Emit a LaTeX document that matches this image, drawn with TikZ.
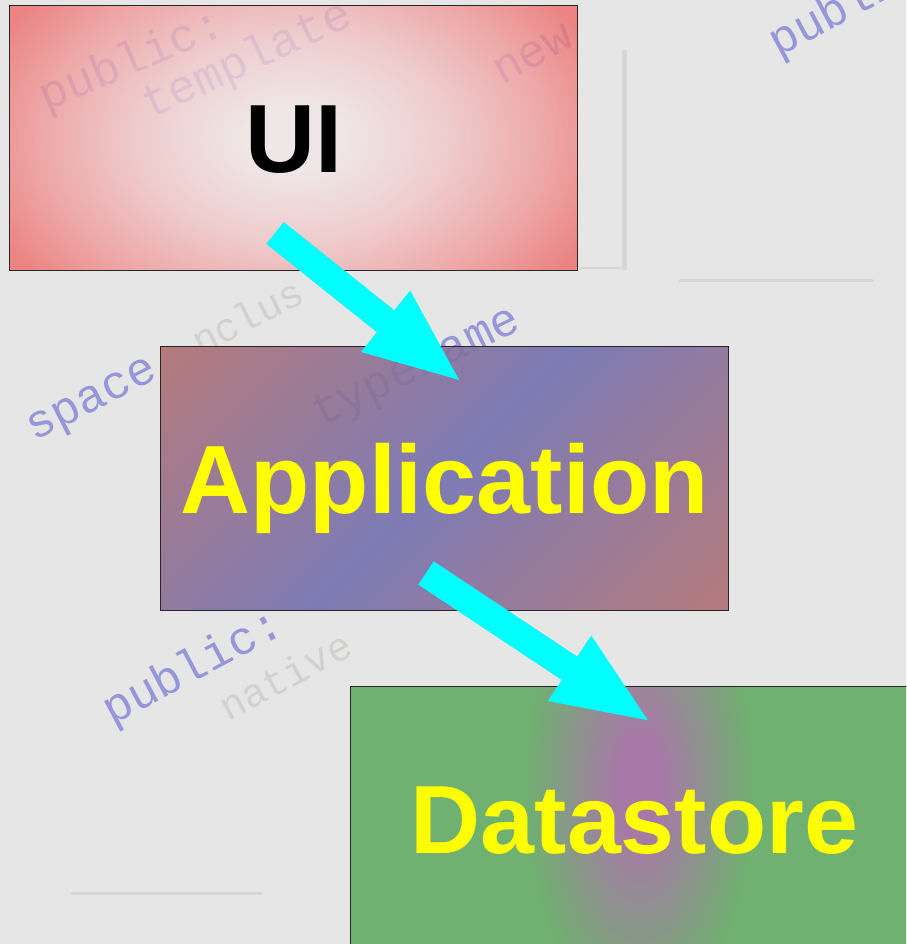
\documentclass[tikz,border=0pt]{standalone}
\usepackage{fontspec}
\setmainfont{Liberation Sans}
\newfontfamily\wmfont{Liberation Mono}
\usetikzlibrary{arrows.meta,calc}
\definecolor{bgcol}{HTML}{E6E6E6}
\definecolor{uiin}{HTML}{F2E8E8}
\definecolor{uimid}{HTML}{F2C4C6}
\definecolor{uimidb}{HTML}{F09A9A}
\definecolor{uiout}{HTML}{EE6C6C}
\definecolor{appred}{HTML}{B27070}
\definecolor{appblue}{HTML}{7270B0}
\definecolor{dsgreen}{HTML}{70B070}
\definecolor{dspurple}{HTML}{A878A8}
\definecolor{arrowcyan}{HTML}{00FFFF}
\definecolor{labelyellow}{HTML}{FFFF00}
\definecolor{wmblue}{HTML}{7C7CD8}
\definecolor{wmgray}{HTML}{B8B8B0}
\definecolor{ghostgray}{HTML}{D6D6D6}
\pgfdeclareradialshading{uishade}{\pgfpoint{0bp}{0bp}}{color(0bp)=(uiin); color(4bp)=(uiin); color(14bp)=(uimid); color(22bp)=(uimidb); color(29bp)=(uiout); color(50bp)=(uiout)}
\pgfdeclarehorizontalshading{appshade}{100bp}{color(0bp)=(appred); color(14bp)=(appred); color(50bp)=(appblue); color(86bp)=(appred); color(100bp)=(appred)}
\tikzset{
  wm/.style={font=\wmfont\fontsize{47}{47}\selectfont, text=wmblue, text opacity=0.75, anchor=base west, inner sep=0pt},
  wmg/.style={font=\wmfont\fontsize{40}{40}\selectfont, text=wmgray, text opacity=0.45, anchor=base west, inner sep=0pt},
  ghost/.style={draw=ghostgray, line width=3pt, line cap=round},
  box/.style={draw=black!85, line width=1pt, minimum width=568pt, minimum height=264pt, inner sep=0pt,
    text height=70pt, text depth=0pt, font=\fontsize{97}{97}\selectfont\bfseries},
  flow/.style={draw=arrowcyan, line width=28pt, -{Triangle[width=70pt,length=99pt]}}
}
\begin{document}
\begin{tikzpicture}[x=1pt,y=-1pt]
\useasboundingbox (0,0) rectangle (906,944);
\clip (0,0) rectangle (906,944);
\fill[bgcol] (0,0) rectangle (906,944);
% faint background art
\draw[ghost] (680,280) -- (872,280);
\draw[ghost] (72,893) -- (262,893);
\draw[ghost, line width=5pt] (624,52) -- (624,268);
\draw[ghost, line width=2pt] (580,268) -- (624,268);
% watermark code text
\node[wm, rotate=23] (w1) at (46,112) {public:};
\node[wm, rotate=25] (w2) at (150,120) {template};
\node[wm, rotate=29] (w3) at (502,86) {new};
\node[wm, rotate=28] (w4) at (778,58) {public:};
\node[wm, rotate=27] (w5) at (34,442) {space};
\node[wmg, rotate=27] (w6) at (200,356) {nclus};
\node[wm, rotate=26] (w7) at (320,428) {typename};
\node[wm, rotate=28] (w8) at (112,726) {public:};
\node[wmg, rotate=28] (w9) at (228,722) {native};
% datastore fill: green with a soft purple glow
\begin{scope}
  \clip (350.5,686) rectangle (918.5,950);
  \fill[dsgreen] (350.5,686) rectangle (918.5,950);
  \foreach \i in {0,...,40} {
    \pgfmathsetmacro\s{1-\i/41}
    \pgfmathtruncatemacro\p{min(100,round(100*\i/33))}
    \fill[dspurple!\p!dsgreen] (640,785) ellipse [x radius=115*\s, y radius=240*\s];
  }
\end{scope}
% boxes
\node[box, text=black,
  path picture={\shade[shading=uishade, fill opacity=0.8]
    ($(path picture bounding box.center)+(-284pt,-190pt)$) rectangle ($(path picture bounding box.center)+(284pt,190pt)$);}]
  (ui) at (293.5,138) {UI};
\node[box, text=labelyellow, shading=appshade, shading angle=-45, fill opacity=0.9, text opacity=1]
  (app) at (444.5,478.5) {Application};
\node[box, text=labelyellow] (ds) at (634.5,818) {Datastore};
% arrows
\coordinate (a1s) at (275,233);
\coordinate (a1e) at (463,383);
\coordinate (a2s) at (426,573);
\coordinate (a2e) at (652,723);
\draw[flow] (a1s) -- (a1e);
\draw[flow] (a2s) -- (a2e);
\end{tikzpicture}
\end{document}
